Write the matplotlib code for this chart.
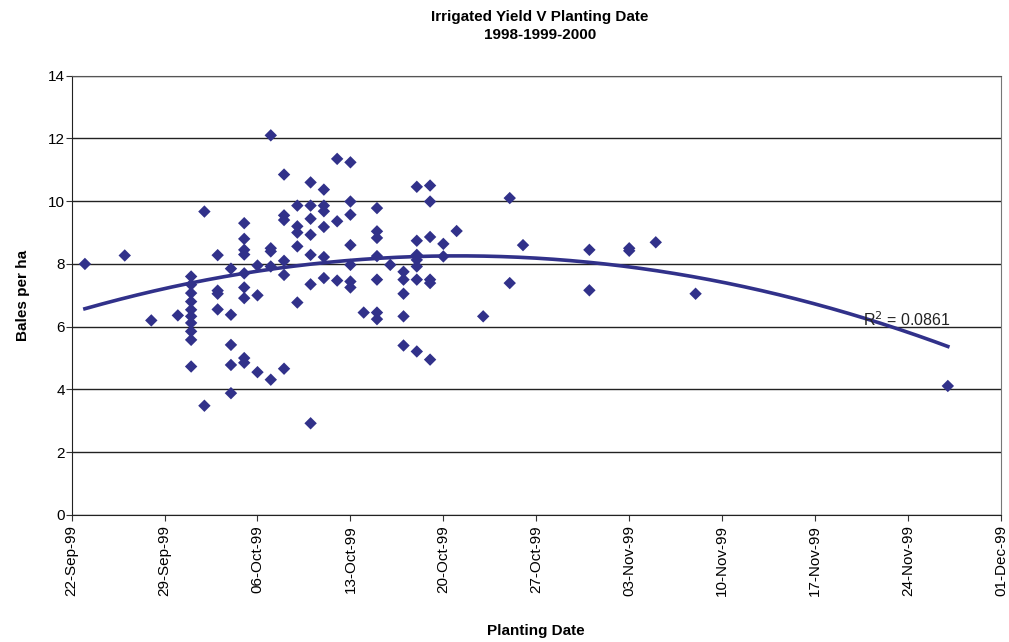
import numpy as np
import matplotlib
matplotlib.use("Agg")
import matplotlib.pyplot as plt
import matplotlib.dates as mdates
from datetime import date

plt.rcParams['font.family'] = ['Liberation Sans Narrow', 'Liberation Sans', 'DejaVu Sans']

# planting dates and the yields recorded on each (bales per ha)
plant_dates = ["1999-09-23", "1999-09-26", "1999-09-28", "1999-09-30", "1999-10-01",
               "1999-10-02", "1999-10-03", "1999-10-04", "1999-10-05", "1999-10-06",
               "1999-10-07", "1999-10-08", "1999-10-09", "1999-10-10", "1999-10-11",
               "1999-10-12", "1999-10-13", "1999-10-14", "1999-10-15", "1999-10-16",
               "1999-10-17", "1999-10-18", "1999-10-19", "1999-10-20", "1999-10-21",
               "1999-10-23", "1999-10-25", "1999-10-26", "1999-10-31", "1999-11-03",
               "1999-11-05", "1999-11-08", "1999-11-27"]
yields = [[8.0], [8.27], [6.2], [6.36],
          [7.60, 7.34, 7.07, 6.80, 6.54, 6.33, 6.12, 5.85, 5.58, 4.73],
          [9.67, 3.48],
          [8.28, 7.15, 7.05, 6.55],
          [7.85, 6.38, 5.42, 4.78, 3.88],
          [9.30, 8.80, 8.45, 8.30, 7.70, 7.25, 6.91, 5.0, 4.85],
          [7.95, 7.0, 4.55],
          [12.1, 8.5, 8.4, 7.92, 4.31],
          [10.85, 9.55, 9.4, 8.1, 7.65, 4.66],
          [9.86, 9.2, 9.0, 8.56, 6.77],
          [10.6, 9.86, 9.44, 8.93, 8.29, 7.35, 2.92],
          [10.37, 9.86, 9.68, 9.18, 8.22, 7.55],
          [11.35, 9.36, 7.47],
          [11.24, 9.99, 9.57, 8.6, 7.97, 7.44, 7.25],
          [6.45],
          [9.78, 9.04, 8.83, 8.25, 7.5, 6.45, 6.24],
          [7.97],
          [7.75, 7.5, 7.05, 6.33, 5.4],
          [10.46, 8.74, 8.29, 8.13, 7.92, 7.5, 5.21],
          [10.5, 9.99, 8.86, 7.5, 7.39, 4.95],
          [8.64, 8.24],
          [9.05],
          [6.33],
          [10.1, 7.39],
          [8.6],
          [8.45, 7.16],
          [8.5, 8.42],
          [8.69],
          [7.05],
          [4.11]]

# points on the fitted polynomial trend line
trend_dates = ["1999-09-23", "1999-10-01", "1999-10-21", "1999-11-03", "1999-11-27"]
trend_vals = [6.54, 7.45, 8.22, 7.92, 5.37]

week_ticks = ["1999-09-22", "1999-09-29", "1999-10-06", "1999-10-13", "1999-10-20",
              "1999-10-27", "1999-11-03", "1999-11-10", "1999-11-17", "1999-11-24",
              "1999-12-01"]
r2_text = "R$^2$ = 0.0861"

navy = "#31318a"


def to_num(s):
    return mdates.date2num(date.fromisoformat(s))


x = []
y = []
for d, vals in zip(plant_dates, yields):
    for v in vals:
        x.append(to_num(d))
        y.append(v)
x = np.array(x)
y = np.array(y)

# 2nd order polynomial through the trend points
tx = np.array([to_num(d) for d in trend_dates])
coef = np.polyfit(tx - tx[0], trend_vals, 2)
xs = np.linspace(tx[0], tx[-1], 200)
ys = np.polyval(coef, xs - tx[0])

fig = plt.figure(figsize=(10.09, 6.42), dpi=100)
ax = fig.add_axes([0.071, 0.198, 0.921, 0.684])

ax.plot(xs, ys, color=navy, lw=2.6, zorder=2)
ax.scatter(x, y, marker="D", s=40, color=navy, edgecolors="none", zorder=3)

ticks = [to_num(t) for t in week_ticks]
ax.set_xlim(ticks[0], ticks[-1])
ax.set_xticks(ticks)
ax.xaxis.set_major_formatter(mdates.DateFormatter("%d-%b-%y"))
ax.set_ylim(0, 14)
ax.set_yticks(range(0, 15, 2))
ax.yaxis.grid(True, color="#222222", lw=1.0)
ax.set_axisbelow(True)

for lab in ax.get_xticklabels():
    lab.set_rotation(90)
ax.tick_params(axis="x", labelsize=11, direction="out", length=4, color="#333333")
ax.tick_params(axis="y", labelsize=11, direction="out", length=4, pad=1, color="#333333")

ax.spines["left"].set_color("#222222")
ax.spines["bottom"].set_color("#222222")
ax.spines["top"].set_linestyle((0, (1, 1)))
ax.spines["top"].set_color("#555555")
ax.spines["right"].set_linestyle((0, (1, 1)))
ax.spines["right"].set_color("#777777")

ax.text(to_num("1999-11-20") + 0.6, 6.22, r2_text, fontsize=11.5,
        va="center", ha="left", color="#222222")

ax.set_xlabel("Planting Date", fontsize=11, fontweight="bold", labelpad=20)
ax.set_ylabel("Bales per ha", fontsize=11, fontweight="bold", labelpad=13)
fig.suptitle("Irrigated Yield V Planting Date\n1998-1999-2000", fontsize=11,
             fontweight="bold", x=0.535, y=0.985, linespacing=1.4)

fig.savefig("out.png", dpi=100)
